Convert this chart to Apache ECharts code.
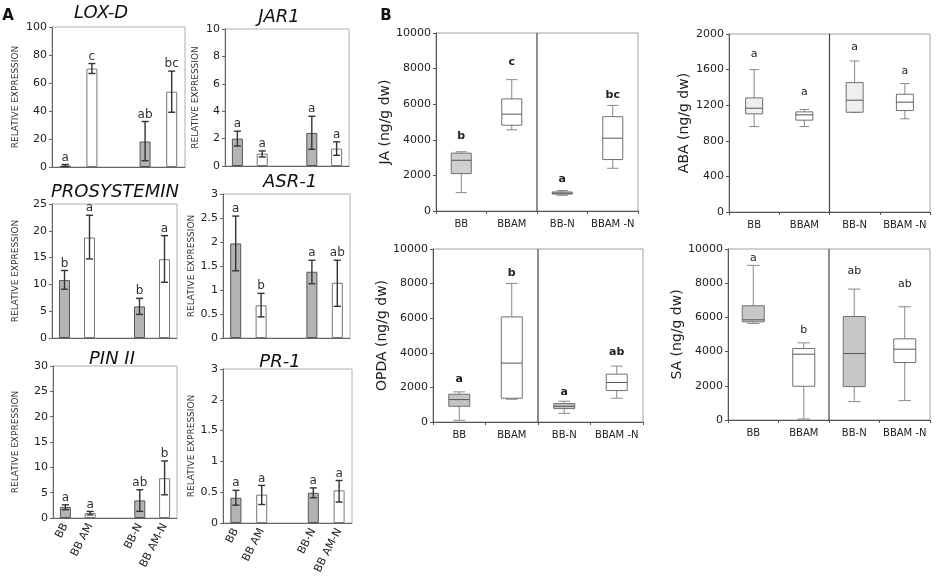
<!DOCTYPE html>
<html><head><meta charset="utf-8">
<script src="https://cdn.jsdelivr.net/npm/echarts@6.0.0/dist/echarts.min.js"></script>
<style>html,body{margin:0;padding:0;background:#fff}#c{width:939px;height:576px}</style>
</head><body><div id="c"></div>
<script>
// ---------- Panel A : relative expression (bars) ----------
const barCategories = ['BB', 'BB AM', '', 'BB-N', 'BB AM-N'];
const barFills = ['#b4b4b4', '#ffffff', null, '#b4b4b4', '#ffffff'];

const loxMean = [1.0, 70.3, null, 18.2, 53.8];
const loxLow = [0.3, 66.8, null, 4.5, 39.1];
const loxHigh = [1.8, 73.9, null, 32.5, 68.5];
const loxLetters = ['a', 'c', '', 'ab', 'bc'];

const jarMean = [2.0, 0.9, null, 2.41, 1.27];
const jarLow = [1.46, 0.66, null, 1.22, 0.78];
const jarHigh = [2.54, 1.1, null, 3.63, 1.76];
const jarLetters = ['a', 'a', '', 'a', 'a'];

const prosMean = [10.8, 18.75, null, 5.9, 14.7];
const prosLow = [9.1, 14.75, null, 4.4, 10.4];
const prosHigh = [12.6, 22.9, null, 7.4, 19.1];
const prosLetters = ['b', 'a', '', 'b', 'a'];

const asrMean = [1.97, 0.68, null, 1.38, 1.15];
const asrLow = [1.40, 0.44, null, 1.13, 0.66];
const asrHigh = [2.54, 0.93, null, 1.62, 1.62];
const asrLetters = ['a', 'b', '', 'a', 'ab'];

const pinMean = [2.16, 0.98, null, 3.47, 7.86];
const pinLow = [1.64, 0.6, null, 1.31, 4.58];
const pinHigh = [2.6, 1.3, null, 5.57, 11.26];
const pinLetters = ['a', 'a', '', 'ab', 'b'];

const prMean = [0.41, 0.46, null, 0.49, 0.53];
const prLow = [0.29, 0.30, null, 0.41, 0.34];
const prHigh = [0.53, 0.61, null, 0.57, 0.69];
const prLetters = ['a', 'a', '', 'a', 'a'];
const prTickLabels = ['0', '0.5', '1', '1.5', '2', '3'];

// ---------- Panel B : hormone contents (boxes: min, Q1, median, Q3, max) ----------
const boxCategories = ['BB', 'BBAM', 'BB-N', 'BBAM -N'];

const jaBoxes = [[1030, 2100, 2850, 3250, 3330], [4560, 4820, 5440, 6300, 7380], [880, 950, 1000, 1070, 1150], [2400, 2890, 4090, 5300, 5930]];
const jaLetters = ['b', 'c', 'a', 'bc'];
const jaLetterY = [4180, 8350, 1800, 6530];

const abaBoxes = [[960, 1103, 1166, 1282, 1600], [960, 1032, 1092, 1125, 1151], [1118, 1121, 1256, 1454, 1697], [1047, 1140, 1234, 1323, 1443]];
const abaLetters = ['a', 'a', 'a', 'a'];
const abaLetterY = [1776, 1350, 1850, 1585];

const opdaBoxes = [[97, 909, 1296, 1605, 1741], [1315, 1373, 3404, 6074, 8008], [503, 774, 909, 1064, 1200], [1373, 1818, 2282, 2766, 3230]];
const opdaLetters = ['a', 'b', 'a', 'ab'];
const opdaLetterY = [2457, 8607, 1741, 4023];

const saBoxes = [[5644, 5742, 5859, 6680, 9043], [59, 1973, 3848, 4180, 4512], [1074, 1953, 3887, 6055, 7656], [1133, 3359, 4141, 4746, 6621]];
const saLetters = ['a', 'b', 'ab', 'ab'];
const saLetterY = [9473, 5234, 8691, 7969];

// ---------- layout ----------
const FONT = 'DejaVu Sans';
const barPanels = [
  { title: 'LOX-D', tx: 101, ty: 13, grid: { left: 52, top: 27, width: 133, height: 140 }, max: 100, interval: 20, mean: loxMean, low: loxLow, high: loxHigh, letters: loxLetters, gap: 32, xlab: false },
  { title: 'JAR1', tx: 279, ty: 17, grid: { left: 225, top: 29, width: 124, height: 137 }, max: 10, interval: 2, mean: jarMean, low: jarLow, high: jarHigh, letters: jarLetters, gap: 25, xlab: false },
  { title: 'PROSYSTEMIN', tx: 115, ty: 192, grid: { left: 52, top: 204, width: 125, height: 134 }, max: 25, interval: 5, mean: prosMean, low: prosLow, high: prosHigh, letters: prosLetters, gap: 32, xlab: false },
  { title: 'ASR-1', tx: 290, ty: 182, grid: { left: 223, top: 194, width: 127, height: 144 }, max: 3, interval: 0.5, mean: asrMean, low: asrLow, high: asrHigh, letters: asrLetters, gap: 26, xlab: false },
  { title: 'PIN II', tx: 112, ty: 359, grid: { left: 53, top: 366, width: 124, height: 152 }, max: 30, interval: 5, mean: pinMean, low: pinLow, high: pinHigh, letters: pinLetters, gap: 33, xlab: true },
  { title: 'PR-1', tx: 280, ty: 362, grid: { left: 223, top: 369, width: 129, height: 154 }, max: 2.5, interval: 0.5, mean: prMean, low: prLow, high: prHigh, letters: prLetters, gap: 26, xlab: true, ticks: prTickLabels }
];
const boxPanels = [
  { name: 'JA (ng/g dw)', grid: { left: 436, top: 33, width: 202, height: 178 }, max: 10000, interval: 2000, boxes: jaBoxes, letters: jaLetters, letterY: jaLetterY, fills: ['#cfcfcf', '#ffffff', '#cfcfcf', '#ffffff'], bw: 20, bold: true },
  { name: 'ABA (ng/g dw)', grid: { left: 729, top: 34, width: 201, height: 178 }, max: 2000, interval: 400, boxes: abaBoxes, letters: abaLetters, letterY: abaLetterY, fills: ['#efefef', '#ffffff', '#efefef', '#ffffff'], bw: 17, bold: false },
  { name: 'OPDA (ng/g dw)', grid: { left: 433, top: 249, width: 210, height: 173 }, max: 10000, interval: 2000, boxes: opdaBoxes, letters: opdaLetters, letterY: opdaLetterY, fills: ['#c4c4c4', '#ffffff', '#c4c4c4', '#ffffff'], bw: 21, bold: true },
  { name: 'SA (ng/g dw)', grid: { left: 728, top: 249, width: 202, height: 171 }, max: 10000, interval: 2000, boxes: saBoxes, letters: saLetters, letterY: saLetterY, fills: ['#c8c8c8', '#ffffff', '#c8c8c8', '#ffffff'], bw: 22, bold: false }
];

const grids = [], xAxes = [], yAxes = [], series = [], graphics = [];

barPanels.forEach((p, k) => {
  grids.push(Object.assign({ show: true, borderColor: '#b0b0b0', borderWidth: 1, backgroundColor: 'transparent', containLabel: false, outerBoundsMode: 'none' }, p.grid));
  xAxes.push({
    type: 'category', gridIndex: k, data: barCategories,
    axisLine: { lineStyle: { color: '#666' } }, axisTick: { show: false },
    axisLabel: { show: p.xlab, rotate: 63, fontSize: 11, color: '#222', fontFamily: FONT, margin: 6, interval: 0 }
  });
  yAxes.push({
    type: 'value', gridIndex: k, min: 0, max: p.max, interval: p.interval,
    name: 'RELATIVE EXPRESSION', nameLocation: 'middle', nameGap: p.gap,
    nameTextStyle: { fontSize: 9, color: '#333', fontFamily: FONT },
    axisLine: { show: true, lineStyle: { color: '#666' } },
    axisTick: { show: true, length: 3, lineStyle: { color: '#666' } },
    splitLine: { show: false },
    axisLabel: {
      fontSize: 11, color: '#222', fontFamily: FONT, margin: 5,
      formatter: p.ticks ? (v) => p.ticks[Math.round(v / p.interval)] : (v) => String(v)
    }
  });
  series.push({
    type: 'bar', xAxisIndex: k, yAxisIndex: k, barWidth: 11, silent: true, animation: false,
    data: p.mean.map((v, i) => v == null ? '-' : { value: v, itemStyle: { color: barFills[i], borderColor: barFills[i] === '#ffffff' ? '#777' : '#555', borderWidth: 1 } })
  });
  const errData = [];
  p.mean.forEach((v, i) => { if (v != null) errData.push([i, p.low[i], p.high[i]]); });
  const letters = p.letters;
  series.push({
    type: 'custom', xAxisIndex: k, yAxisIndex: k, silent: true, animation: false, z: 5,
    encode: { x: 0, y: [1, 2] }, data: errData,
    renderItem: (params, api) => {
      const i = api.value(0);
      const lo = api.coord([i, api.value(1)]);
      const hi = api.coord([i, api.value(2)]);
      const x = lo[0], c = 3.5;
      const st = { stroke: '#333', lineWidth: 1.4 };
      return {
        type: 'group', children: [
          { type: 'line', shape: { x1: x, y1: lo[1], x2: x, y2: hi[1] }, style: st },
          { type: 'line', shape: { x1: x - c, y1: lo[1], x2: x + c, y2: lo[1] }, style: st },
          { type: 'line', shape: { x1: x - c, y1: hi[1], x2: x + c, y2: hi[1] }, style: st },
          { type: 'text', style: { text: letters[i], x: x, y: hi[1] - 1, align: 'center', verticalAlign: 'bottom', fontSize: 12, fill: '#333', fontFamily: FONT } }
        ]
      };
    }
  });
  graphics.push({ type: 'text', x: p.tx, y: p.ty, style: { text: p.title, align: 'center', verticalAlign: 'middle', fontSize: 18, fontStyle: 'italic', fontFamily: FONT, fill: '#111' } });
});

boxPanels.forEach((p, j) => {
  const k = barPanels.length + j;
  grids.push(Object.assign({ show: true, borderColor: '#a0a0a0', borderWidth: 1, backgroundColor: 'transparent', containLabel: false, outerBoundsMode: 'none' }, p.grid));
  xAxes.push({
    type: 'category', gridIndex: k, data: boxCategories,
    axisLine: { lineStyle: { color: '#555' } },
    axisTick: { show: true, length: 3, interval: 0, lineStyle: { color: '#555' } },
    axisLabel: { fontSize: 10, color: '#222', fontFamily: FONT, margin: 8, interval: 0 }
  });
  yAxes.push({
    type: 'value', gridIndex: k, min: 0, max: p.max, interval: p.interval,
    name: p.name, nameLocation: 'middle', nameGap: 38,
    nameTextStyle: { fontSize: 14, color: '#222', fontFamily: FONT },
    axisLine: { show: true, lineStyle: { color: '#555' } },
    axisTick: { show: true, length: 3, lineStyle: { color: '#555' } },
    splitLine: { show: false },
    axisLabel: { fontSize: 11, color: '#222', fontFamily: FONT, margin: 5, formatter: (v) => String(v) }
  });
  const data = p.boxes.map((b, i) => [i].concat(b));
  series.push({
    type: 'custom', xAxisIndex: k, yAxisIndex: k, silent: true, animation: false,
    encode: { x: 0, y: [1, 2, 3, 4, 5] }, data: data,
    renderItem: (params, api) => {
      const i = api.value(0);
      const y = (v) => api.coord([i, v])[1];
      const x = api.coord([i, 0])[0];
      const mn = y(api.value(1)), q1 = y(api.value(2)), md = y(api.value(3)), q3 = y(api.value(4)), mx = y(api.value(5));
      const h = p.bw / 2, c = p.bw * 0.28;
      const w = { stroke: '#888', lineWidth: 1 };
      const ch = [
        { type: 'line', shape: { x1: x, y1: mx, x2: x, y2: q3 }, style: w },
        { type: 'line', shape: { x1: x, y1: q1, x2: x, y2: mn }, style: w },
        { type: 'line', shape: { x1: x - c, y1: mx, x2: x + c, y2: mx }, style: w },
        { type: 'line', shape: { x1: x - c, y1: mn, x2: x + c, y2: mn }, style: w },
        { type: 'rect', shape: { x: x - h, y: q3, width: p.bw, height: Math.max(q1 - q3, 0.5) }, style: { fill: p.fills[i], stroke: '#707070', lineWidth: 1 } },
        { type: 'line', shape: { x1: x - h, y1: md, x2: x + h, y2: md }, style: { stroke: '#555', lineWidth: 1 } },
        { type: 'text', style: { text: p.letters[i], x: x, y: y(p.letterY[i]), align: 'center', verticalAlign: 'middle', fontSize: 11, fontWeight: p.bold ? 'bold' : 'normal', fill: '#222', fontFamily: FONT } }
      ];
      if (i === 2) {
        const cs = params.coordSys;
        const bx = x - api.size([1, 0])[0] / 2;
        ch.push({ type: 'line', shape: { x1: bx, y1: cs.y, x2: bx, y2: cs.y + cs.height }, style: { stroke: '#444', lineWidth: 1.2 } });
      }
      return { type: 'group', children: ch };
    }
  });
});

graphics.push({ type: 'text', x: 8, y: 16, style: { text: 'A', align: 'center', verticalAlign: 'middle', fontSize: 15, fontWeight: 'bold', fontFamily: FONT, fill: '#111' } });
graphics.push({ type: 'text', x: 386, y: 16, style: { text: 'B', align: 'center', verticalAlign: 'middle', fontSize: 15, fontWeight: 'bold', fontFamily: FONT, fill: '#111' } });

const chart = echarts.init(document.getElementById('c'), null, { renderer: 'canvas' });
chart.setOption({
  animation: false,
  backgroundColor: '#fff',
  textStyle: { fontFamily: FONT },
  grid: grids, xAxis: xAxes, yAxis: yAxes, series: series, graphic: graphics
});
</script></body></html>
